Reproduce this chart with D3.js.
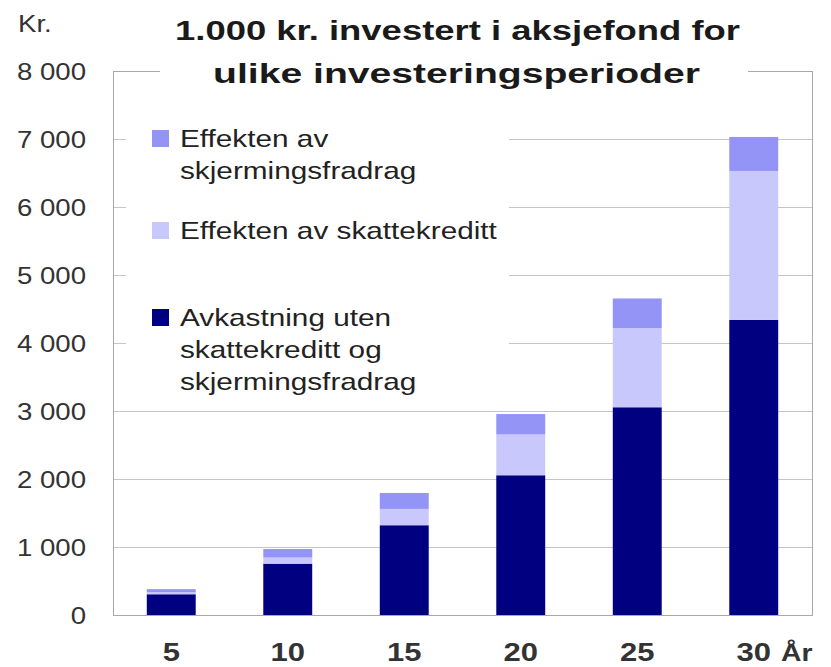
<!DOCTYPE html>
<html>
<head>
<meta charset="utf-8">
<script src="https://cdn.jsdelivr.net/npm/d3@7"></script>
<style>
  html, body { margin: 0; padding: 0; background: #fff; }
  svg { display: block; }
  text { font-family: "Liberation Sans", Arial, sans-serif; }
</style>
</head>
<body>
<svg id="chart" width="831" height="667"></svg>
<script>
// ---- Data ----
const years = ["5", "10", "15", "20", "25", "30"];
const avkastning = [305, 755, 1320, 2055, 3055, 4340];      // Avkastning uten skattekreditt og skjermingsfradrag
const skattekreditt = [30, 90, 240, 600, 1165, 2190];       // Effekten av skattekreditt
const skjerming = [45, 125, 235, 300, 435, 500];            // Effekten av skjermingsfradrag
const yTicks = [0, 1000, 2000, 3000, 4000, 5000, 6000, 7000, 8000];
const yTickLabels = ["0", "1 000", "2 000", "3 000", "4 000", "5 000", "6 000", "7 000", "8 000"];
const titleLines = ["1.000 kr. investert i aksjefond for", "ulike investeringsperioder"];
const legendItems = [
  { key: "skjerming", lines: ["Effekten av", "skjermingsfradrag"] },
  { key: "skattekreditt", lines: ["Effekten av skattekreditt"] },
  { key: "avkastning", lines: ["Avkastning uten", "skattekreditt og", "skjermingsfradrag"] }
];
const colors = { avkastning: "#000080", skattekreditt: "#c8c8fc", skjerming: "#9494f6" };

// ---- Layout ----
const svg = d3.select("#chart");
const pLeft = 113, pRight = 812, pTop = 71, pBottom = 615;
const SX = 1.24; // horizontal text stretch seen in the reference

const x = d3.scaleBand().domain(years).range([pLeft, pRight]).paddingInner(0.58).paddingOuter(0.29);
const y = d3.scaleLinear().domain([0, 8000]).range([pBottom, pTop]);

const rows = years.map((yr, i) => ({ year: yr, avkastning: avkastning[i], skattekreditt: skattekreditt[i], skjerming: skjerming[i] }));
const stack = d3.stack().keys(["avkastning", "skattekreditt", "skjerming"]);
const series = stack(rows);

// Gridlines
svg.append("g").selectAll("line").data(yTicks.filter(d => d > 0 && d < 8000)).join("line")
  .attr("x1", pLeft).attr("x2", pRight)
  .attr("y1", d => Math.round(y(d)) + 0.5).attr("y2", d => Math.round(y(d)) + 0.5)
  .attr("stroke", "#c4c4c4").attr("stroke-width", 1);

// Plot frame
svg.append("rect")
  .attr("x", pLeft + 0.5).attr("y", Math.round(y(8000)) + 0.5)
  .attr("width", pRight - pLeft).attr("height", Math.round(y(0)) - Math.round(y(8000)))
  .attr("fill", "none").attr("stroke", "#a8a8a8").attr("stroke-width", 1);

// Bars
svg.append("g").selectAll("g").data(series).join("g")
  .attr("fill", d => colors[d.key])
  .selectAll("rect").data(d => d).join("rect")
  .attr("x", d => x(d.data.year))
  .attr("width", x.bandwidth())
  .attr("y", d => y(d[1]))
  .attr("height", d => y(d[0]) - y(d[1]));

// Y axis tick labels
const yAxis = d3.axisLeft(y).tickValues(yTicks).tickSize(0).tickPadding(0)
  .tickFormat((d, i) => yTickLabels[i]);
const gy = svg.append("g").attr("transform", `translate(86,0)`).call(yAxis);
gy.select(".domain").remove();
gy.selectAll("text")
  .attr("font-size", 23).attr("fill", "#333").attr("font-family", "Liberation Sans, Arial, sans-serif")
  .attr("x", null).attr("dy", "0.35em")
  .attr("transform", `scale(1.2,1)`);

// X axis labels
const xAxis = d3.axisBottom(x).tickSize(0).tickPadding(0);
const gx = svg.append("g").attr("transform", `translate(0,661)`).call(xAxis);
gx.select(".domain").remove();
gx.selectAll("text")
  .attr("y", 0).attr("dy", 0)
  .attr("font-size", 25).attr("font-weight", "bold").attr("fill", "#333")
  .attr("font-family", "Liberation Sans, Arial, sans-serif")
  .attr("transform", `scale(${SX},1)`);

svg.append("text").attr("transform", `translate(781,661) scale(1.18,1)`)
  .attr("font-size", 24).attr("font-weight", "bold").attr("fill", "#333").text("År");

// Title background and text
svg.append("rect").attr("x", 160).attr("y", 0).attr("width", 588).attr("height", 96).attr("fill", "#fff");
svg.append("text").attr("x", 175).attr("y", 40)
  .attr("font-size", 27).attr("font-weight", "bold").attr("fill", "#1a1a1a")
  .attr("textLength", 565).attr("lengthAdjust", "spacingAndGlyphs")
  .text(titleLines[0]);
svg.append("text").attr("x", 213).attr("y", 83)
  .attr("font-size", 27).attr("font-weight", "bold").attr("fill", "#1a1a1a")
  .attr("textLength", 487).attr("lengthAdjust", "spacingAndGlyphs")
  .text(titleLines[1]);

// "Kr." label
svg.append("text").attr("transform", `translate(18,32) scale(1.2,1)`)
  .attr("font-size", 23).attr("fill", "#333").text("Kr.");

// Legend
svg.append("rect").attr("x", 126).attr("y", 96).attr("width", 383).attr("height", 306).attr("fill", "#fff");
const legendPos = [{ sy: 130, ty: 147 }, { sy: 222, ty: 239 }, { sy: 309, ty: 326 }];
const lg = svg.append("g");
legendItems.forEach((it, i) => {
  lg.append("rect").attr("x", 152).attr("y", legendPos[i].sy).attr("width", 17).attr("height", 17)
    .attr("fill", colors[it.key]);
  it.lines.forEach((ln, j) => {
    lg.append("text").attr("transform", `translate(180,${legendPos[i].ty + j * 32}) scale(${SX},1)`)
      .attr("font-size", 24).attr("fill", "#222").text(ln);
  });
});
</script>
</body>
</html>
